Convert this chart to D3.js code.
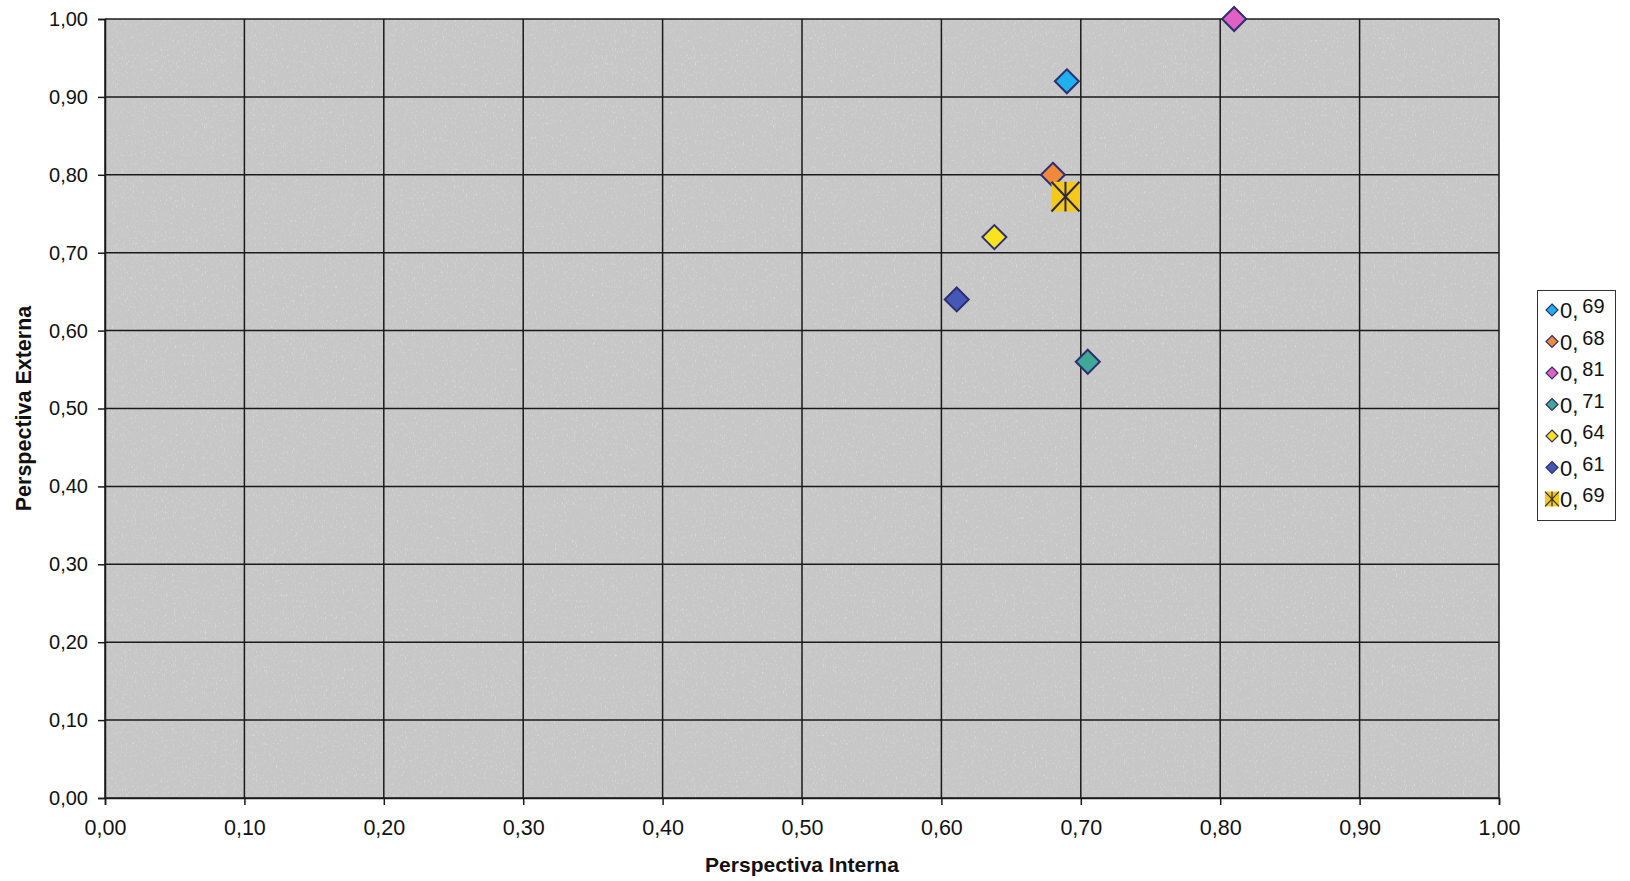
<!DOCTYPE html>
<html>
<head>
<meta charset="utf-8">
<script src="https://cdn.jsdelivr.net/npm/d3@7"></script>
<style>
  html, body { margin: 0; padding: 0; background: #fff; }
  svg { display: block; font-family: "Liberation Sans", Arial, sans-serif; }
</style>
</head>
<body>
<svg id="chart" width="1630" height="881"></svg>
<script>
// Perspectiva Interna (x) vs Perspectiva Externa (y)
const seriesNames = ["0,69", "0,68", "0,81", "0,71", "0,64", "0,61", "0,69"];
const interna = [0.69, 0.68, 0.81, 0.705, 0.638, 0.611, 0.689];
const externa = [0.92, 0.80, 1.00, 0.56, 0.72, 0.64, 0.772];
const markerShapes = ["diamond", "diamond", "diamond", "diamond", "diamond", "diamond", "star"];
const fillColors = ["#1fb0ee", "#f08a3a", "#e060c4", "#3fa898", "#fbe21e", "#4558b8", "#f6c81a"];
const tickValues = [0, 0.1, 0.2, 0.3, 0.4, 0.5, 0.6, 0.7, 0.8, 0.9, 1.0];

const svg = d3.select("#chart");
const plot = { left: 105, right: 1499, top: 19, bottom: 798 };

const x = d3.scaleLinear().domain([0, 1]).range([plot.left, plot.right]);
const y = d3.scaleLinear().domain([0, 1]).range([plot.bottom, plot.top]);
const fmt = d => d3.format(".2f")(d).replace(".", ",");

// grainy grey plot background
const defs = svg.append("defs");
const grain = defs.append("filter").attr("id", "grain")
  .attr("x", 0).attr("y", 0).attr("width", 1).attr("height", 1);
grain.append("feTurbulence").attr("type", "fractalNoise")
  .attr("baseFrequency", "0.9 0.35").attr("numOctaves", 2).attr("seed", 7).attr("result", "noise");
grain.append("feColorMatrix").attr("in", "noise").attr("type", "matrix")
  .attr("values", "0 0 0 0 1  0 0 0 0 1  0 0 0 0 1  0 0 0 1.6 -0.95").attr("result", "specks");
grain.append("feComposite").attr("in", "specks").attr("in2", "SourceGraphic").attr("operator", "in");

svg.append("rect")
  .attr("x", plot.left).attr("y", plot.top)
  .attr("width", plot.right - plot.left).attr("height", plot.bottom - plot.top)
  .attr("fill", "#c7c7c7");
svg.append("rect")
  .attr("x", plot.left).attr("y", plot.top)
  .attr("width", plot.right - plot.left).attr("height", plot.bottom - plot.top)
  .attr("fill", "#c7c7c7").attr("filter", "url(#grain)").attr("opacity", 0.7);

// grid
const grid = svg.append("g").attr("stroke", "#1a1a1a").attr("stroke-width", 1.5);
grid.selectAll("line.v").data(tickValues).join("line").attr("class", "v")
  .attr("x1", d => x(d)).attr("x2", d => x(d))
  .attr("y1", plot.top).attr("y2", plot.bottom);
grid.selectAll("line.h").data(tickValues).join("line").attr("class", "h")
  .attr("x1", plot.left).attr("x2", plot.right)
  .attr("y1", d => y(d)).attr("y2", d => y(d));

// axes
const xAxis = d3.axisBottom(x).tickValues(tickValues).tickFormat(fmt).tickSize(7).tickPadding(15);
const yAxis = d3.axisLeft(y).tickValues(tickValues).tickFormat(fmt).tickSize(7).tickPadding(10);

const gx = svg.append("g").attr("transform", `translate(0,${plot.bottom})`).call(xAxis);
const gy = svg.append("g").attr("transform", `translate(${plot.left},0)`).call(yAxis);
[gx, gy].forEach(g => {
  g.select(".domain").attr("stroke", "#1a1a1a").attr("stroke-width", 1.5);
  g.selectAll(".tick line").attr("stroke", "#1a1a1a").attr("stroke-width", 1.5);
  g.selectAll(".tick text").attr("fill", "#111")
    .attr("font-family", "'Liberation Sans', Arial, sans-serif");
});
gx.selectAll(".tick text").attr("font-size", 21.5);
gy.selectAll(".tick text").attr("font-size", 20);

// axis titles
svg.append("text")
  .attr("x", (plot.left + plot.right) / 2).attr("y", 872)
  .attr("text-anchor", "middle").attr("font-weight", "bold").attr("font-size", 21)
  .attr("fill", "#111").text("Perspectiva Interna");
svg.append("text")
  .attr("transform", `translate(31,${(plot.top + plot.bottom) / 2}) rotate(-90)`)
  .attr("text-anchor", "middle").attr("font-weight", "bold").attr("font-size", 21.5)
  .attr("fill", "#111").text("Perspectiva Externa");

// marker drawing
function drawMarker(g, shape, fill, size) {
  if (shape === "diamond") {
    const h = size / 2;
    g.append("path")
      .attr("d", `M0,${-h}L${h},0L0,${h}L${-h},0Z`)
      .attr("fill", fill).attr("stroke", "#2d2f6e").attr("stroke-width", size > 15 ? 2 : 1.2);
  } else {
    const w = size * 0.5, hh = size * 0.53;
    g.append("rect").attr("x", -w).attr("y", -hh).attr("width", 2 * w).attr("height", 2 * hh)
      .attr("fill", fill);
    const s = g.append("g").attr("stroke", "#2a2a3a").attr("stroke-width", size > 15 ? 2 : 1.2);
    s.append("line").attr("x1", -w).attr("y1", -hh).attr("x2", w).attr("y2", hh);
    s.append("line").attr("x1", -w).attr("y1", hh).attr("x2", w).attr("y2", -hh);
    s.append("line").attr("x1", 0).attr("y1", -hh).attr("x2", 0).attr("y2", hh);
  }
}

// points
const data = seriesNames.map((name, i) => ({
  name, xv: interna[i], yv: externa[i], shape: markerShapes[i], fill: fillColors[i]
}));
const pts = svg.append("g");
data.forEach(d => {
  const g = pts.append("g").attr("transform", `translate(${x(d.xv)},${y(d.yv)})`);
  drawMarker(g, d.shape, d.fill, d.shape === "star" ? 28 : 24);
});

// legend
const legend = svg.append("g");
legend.append("rect")
  .attr("x", 1537.5).attr("y", 290.5).attr("width", 78).attr("height", 230)
  .attr("fill", "#fff").attr("stroke", "#333").attr("stroke-width", 1);
data.forEach((d, i) => {
  const cy = 310 + i * 31.5;
  const g = legend.append("g").attr("transform", `translate(1552,${cy})`);
  drawMarker(g, d.shape, d.fill, d.shape === "star" ? 14 : 12);
  const t = legend.append("text").attr("x", 1560).attr("y", cy + 8)
    .attr("font-size", 22).attr("fill", "#111");
  const parts = d.name.split(",");
  t.append("tspan").text(parts[0] + ",");
  t.append("tspan").attr("dx", 4).attr("dy", -5).attr("font-size", 20).text(parts[1]);
});
</script>
</body>
</html>
